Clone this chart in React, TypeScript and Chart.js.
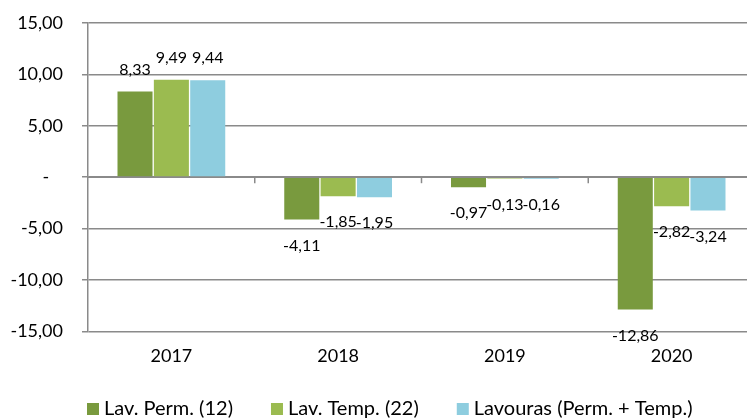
import React, { useEffect, useRef } from "react";
import { Chart, registerables } from "chart.js";

Chart.register(...registerables);

const categories = ["2017", "2018", "2019", "2020"];
const seriesLabels = ["Lav. Perm. (12)", "Lav. Temp. (22)", "Lavouras (Perm. + Temp.)"];
const lavPerm = [8.33, -4.11, -0.97, -12.86];
const lavTemp = [9.49, -1.85, -0.13, -2.82];
const lavouras = [9.44, -1.95, -0.16, -3.24];
const seriesColors = ["#799A3E", "#9BBB50", "#8ECDDF"];
const yTicks = [-15, -10, -5, 0, 5, 10, 15];

const FONT = "Lato, 'Open Sans', sans-serif";
const GRID = "#8A8A8A";

const fmt = (v: number) => v.toFixed(2).replace(".", ",");

const dataLabelPlugin = {
  id: "dataLabels",
  afterDatasetsDraw(chart: any) {
    const ctx = chart.ctx;
    const ys = chart.scales.y;
    const area = chart.chartArea;
    // zero axis line drawn over the bars
    ctx.save();
    ctx.strokeStyle = GRID;
    ctx.lineWidth = 1.5;
    const y0 = ys.getPixelForValue(0);
    ctx.beginPath();
    ctx.moveTo(area.left, y0);
    ctx.lineTo(area.right, y0);
    ctx.stroke();
    ctx.font = `16px ${FONT}`;
    ctx.fillStyle = "#000";
    ctx.textAlign = "center";
    ctx.textBaseline = "middle";
    chart.data.datasets.forEach((ds: any, di: number) => {
      const meta = chart.getDatasetMeta(di);
      meta.data.forEach((el: any, i: number) => {
        const v = ds.data[i];
        const y = v >= 0 ? el.y - 22 : el.y + 26;
        ctx.fillText(fmt(v), el.x, y);
      });
    });
    ctx.restore();
  },
};

const categoryTicksPlugin = {
  id: "categoryTicks",
  afterDraw(chart: any) {
    const ctx = chart.ctx;
    const xs = chart.scales.x;
    const ys = chart.scales.y;
    const y0 = ys.getPixelForValue(0);
    const n = chart.data.labels.length;
    ctx.save();
    ctx.strokeStyle = GRID;
    ctx.lineWidth = 1.5;
    for (let i = 0; i < n; i++) {
      const a = xs.getPixelForValue(i);
      const b = i + 1 < n ? xs.getPixelForValue(i + 1) : a + (a - xs.getPixelForValue(i - 1));
      const xb = (a + b) / 2;
      ctx.beginPath();
      ctx.moveTo(xb, y0);
      ctx.lineTo(xb, y0 + 6);
      ctx.stroke();
    }
    ctx.restore();
  },
};

const legendPlugin = {
  id: "customLegend",
  afterDraw(chart: any) {
    const ctx = chart.ctx;
    ctx.save();
    ctx.font = `20px ${FONT}`;
    ctx.textBaseline = "middle";
    ctx.textAlign = "left";
    let x = 87;
    const cy = 409;
    chart.data.datasets.forEach((ds: any) => {
      ctx.fillStyle = ds.backgroundColor;
      ctx.fillRect(x, cy - 6, 12, 12);
      ctx.fillStyle = "#000";
      ctx.fillText(ds.label, x + 17, cy);
      const w = ctx.measureText(ds.label).width;
      x += 17 + w + 38;
    });
    ctx.restore();
  },
};

export default function App() {
  const ref = useRef<HTMLCanvasElement | null>(null);
  useEffect(() => {
    if (!ref.current) return;
    const chart = new Chart(ref.current, {
      type: "bar",
      data: {
        labels: categories,
        datasets: [lavPerm, lavTemp, lavouras].map((d, i) => ({
          label: seriesLabels[i],
          data: d,
          backgroundColor: seriesColors[i],
          borderWidth: 0,
          categoryPercentage: 0.654,
          barPercentage: 0.964,
        })),
      },
      options: {
        animation: false,
        responsive: true,
        maintainAspectRatio: false,
        layout: { padding: { top: 23, bottom: 37, left: 0, right: 0 } },
        plugins: {
          legend: { display: false },
          tooltip: { enabled: false },
        },
        scales: {
          x: {
            grid: { display: false, drawTicks: false },
            border: { display: false },
            ticks: { color: "#000", font: { family: FONT, size: 18 }, padding: 14 },
          },
          y: {
            min: -15,
            max: 15,
            afterFit: (scale: any) => {
              scale.width = 88;
              scale.paddingTop = 0;
              scale.paddingBottom = 0;
            },
            afterBuildTicks: (scale: any) => {
              scale.ticks = yTicks.map((v) => ({ value: v }));
            },
            grid: { color: GRID, lineWidth: 1.5, tickLength: 6, drawTicks: true },
            border: { display: true, color: GRID, width: 1.5 },
            ticks: {
              color: "#000",
              font: { family: FONT, size: 18 },
              padding: 19,
              callback: (v: any) => (Number(v) === 0 ? "-   " : fmt(Number(v))),
            },
          },
        },
      },
      plugins: [dataLabelPlugin, categoryTicksPlugin, legendPlugin],
    });
    return () => chart.destroy();
  }, []);
  return (
    <div style={{ position: "fixed", left: 0, top: 0, width: 747, height: 418, overflow: "hidden", background: "#fff" }}>
      <div style={{ position: "relative", width: 755, height: 418 }}>
        <canvas ref={ref} />
      </div>
    </div>
  );
}
